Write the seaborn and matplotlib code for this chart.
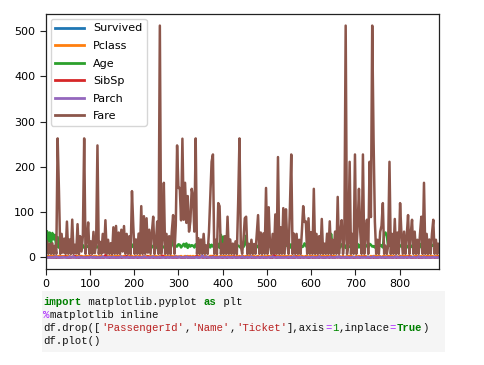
import matplotlib
matplotlib.use("Agg")
import matplotlib.pyplot as plt
import pandas as pd
import seaborn as sns
from matplotlib.patches import Rectangle

# Titanic columns as drawn by df.plot(), every 3rd row.
row_index = list(range(0, 889, 3))

fare = [
    7.25, 35.5, 8.05, 30.1, 7.9, 31.3, 7.23, 26.0, 7.9, 263.0,
    146.5, 7.9, 52.0, 10.5, 41.6, 7.88, 79.2, 8.05, 39.7, 7.75,
    83.5, 7.9, 27.9, 8.66, 73.5, 7.25, 46.9, 13.0, 47.1, 263.0,
    8.05, 39.0, 77.3, 7.75, 35.5, 7.78, 56.5, 9.5, 30.7, 247.5,
    7.9, 34.4, 8.05, 52.0, 10.5, 82.2, 7.75, 39.0, 7.9, 31.4,
    7.25, 66.6, 8.05, 69.55, 7.9, 55.0, 7.75, 61.2, 13.0, 69.3,
    8.05, 52.0, 7.9, 46.9, 7.25, 146.5, 69.3, 7.85, 39.7, 8.05,
    52.6, 7.9, 113.3, 7.75, 91.1, 7.9, 86.5, 10.5, 61.2, 7.9,
    55.0, 90.0, 7.75, 30.0, 79.2, 7.9, 512.3, 8.05, 39.7, 164.9,
    7.9, 52.0, 7.75, 46.9, 7.25, 56.9, 93.5, 8.05, 71.0, 247.5,
    153.5, 153.5, 81.9, 262.4, 83.2, 164.9, 76.3, 135.6, 57.0, 79.6,
    151.6, 134.5, 57.0, 263.0, 7.9, 42.4, 7.75, 39.6, 8.05, 52.0,
    7.9, 26.55, 7.75, 55.9, 135.6, 211.5, 227.5, 7.9, 39.0, 7.25,
    120.0, 113.3, 7.9, 30.0, 7.75, 46.9, 7.9, 90.0, 8.05, 39.6,
    7.9, 30.5, 7.75, 35.5, 7.25, 120.0, 263.0, 26.0, 8.05, 39.0,
    86.5, 90.0, 7.25, 30.0, 7.9, 39.0, 7.75, 29.7, 8.05, 52.0,
    93.5, 7.9, 55.0, 7.75, 53.1, 8.05, 153.5, 7.9, 110.9, 26.55,
    7.9, 52.0, 7.75, 95.0, 8.05, 221.8, 7.75, 66.6, 8.05, 108.9,
    7.9, 106.4, 30.0, 7.9, 110.9, 227.5, 7.75, 52.5, 7.9, 52.0,
    7.9, 39.0, 7.25, 56.5, 113.3, 78.3, 79.6, 7.9, 86.5, 8.05,
    55.9, 7.9, 151.6, 7.75, 52.0, 7.75, 46.9, 8.05, 85.0, 7.9,
    30.5, 7.9, 52.5, 7.9, 79.7, 7.75, 39.0, 7.9, 57.0, 8.05,
    133.7, 7.9, 56.5, 82.3, 7.75, 39.6, 512.3, 7.75, 30.0, 211.3,
    7.9, 52.0, 7.9, 227.5, 7.75, 69.55, 151.6, 55.4, 7.9, 227.5,
    7.9, 52.0, 83.2, 7.75, 211.3, 89.1, 512.3, 262.4, 78.9, 7.9,
    39.0, 7.9, 56.5, 69.55, 120.0, 7.9, 26.0, 7.75, 26.0, 211.3,
    7.75, 52.0, 7.9, 85.0, 7.75, 55.0, 7.9, 120.0, 52.0, 8.05,
    57.0, 7.9, 46.9, 93.5, 7.75, 52.5, 83.2, 7.9, 57.0, 7.9,
    39.0, 7.9, 52.0, 90.0, 7.75, 164.9, 7.9, 52.0, 7.75, 39.6,
    7.9, 52.0, 83.2, 7.9, 39.0, 7.75, 30.0,
]

age = [
    38, 58, 35, 55, 28, 54, 40, 50, 22, 45,
    22, 19, 26, 22, 24, 18, 28, 21, 26, 22,
    24, 20, 22, 18, 25, 21, 24, 17, 27, 22,
    20, 25, 24, 22, 23, 19, 27, 20, 24, 22,
    26, 22, 25, 28, 47, 27, 22, 25, 24, 21,
    22, 27, 21, 28, 20, 27, 24, 26, 22, 25,
    26, 21, 28, 24, 22, 23, 29, 25, 20, 24,
    27, 23, 25, 26, 21, 28, 24, 26, 23, 22,
    22, 26, 25, 23, 21, 27, 24, 28, 25, 22,
    24, 25, 28, 22, 23, 48, 27, 21, 26, 24,
    29, 28, 22, 26, 30, 24, 31, 21, 28, 24,
    27, 26, 22, 29, 23, 21, 26, 25, 27, 24,
    24, 22, 26, 29, 22, 28, 24, 27, 26, 22,
    30, 21, 50, 26, 46, 29, 23, 28, 24, 27,
    25, 26, 28, 22, 27, 26, 24, 21, 25, 23,
    28, 48, 25, 24, 21, 25, 24, 26, 27, 22,
    26, 24, 29, 25, 24, 27, 22, 28, 25, 24,
    23, 30, 26, 21, 27, 25, 28, 24, 28, 22,
    25, 26, 28, 23, 29, 21, 30, 27, 24, 26,
    25, 22, 28, 23, 24, 31, 26, 22, 25, 24,
    28, 27, 23, 27, 30, 21, 30, 25, 23, 28,
    29, 26, 25, 48, 22, 52, 29, 24, 28, 27,
    24, 25, 22, 29, 26, 28, 21, 27, 25, 23,
    26, 27, 22, 25, 24, 30, 22, 28, 26, 29,
    23, 28, 25, 21, 30, 28, 24, 25, 22, 27,
    24, 23, 28, 26, 22, 52, 55, 48, 24, 28,
    25, 26, 23, 29, 21, 30, 27, 24, 28, 22,
    29, 25, 25, 22, 31, 26, 23, 27, 28, 24,
    28, 25, 30, 22, 30, 27, 23, 26, 25, 29,
    22, 28, 26, 30, 23, 24, 27,
]

survived_digits = [
    "0111010001", "0101100010", "1100100111", "0010110100", "1001011001",
    "0110001011", "1010010110", "0100111001", "1011000101", "0010110110",
    "1100101001", "0101001110", "1001100101", "0110010011", "1010011000",
    "0101101001", "1001010110", "0011001011", "1100100101", "0101011000",
    "1010100110", "0011010101", "1100101010", "0100110011", "1011001010",
    "0110100101", "1001011010", "0101100110", "1010010011", "0110101",
]
pclass_digits = [
    "3131332332", "3323133231", "1233313321", "3323312331", "2331233133",
    "3133231313", "2313331231", "3312313323", "1333213313", "3231331332",
    "1131132313", "1313333231", "3211333133", "1133231323", "3321313233",
    "1333233312", "3123131332", "3311323313", "3133131332", "2313213313",
    "3313233133", "3133213331", "1321311333", "3211313131", "3311131333",
    "3321233133", "3313121333", "3233131133", "3313131332", "3312333",
]
sibsp_digits = [
    "1101000100", "0010120000", "1030001100", "0100201000", "0010050100",
    "1000101001", "0300100010", "0101000200", "1000010041", "0010100000",
    "1100001010", "0001300100", "1000102000", "0100010010", "0020001001",
    "0100100000", "1001000010", "0080010100", "0100010002", "0001001000",
    "1000010100", "0010020001", "0100100000", "1000001010", "1100001000",
    "0010100010", "0001000101", "0100200000", "1000010100", "0010001",
]
parch_digits = [
    "0000000120", "0001000020", "0200010000", "0000100100", "0002000010",
    "0100000200", "0010000001", "0000210000", "0200001000", "0010000020",
    "0100002000", "0000100050", "0200001000", "0001000100", "0100000020",
    "0010020000", "0000100001", "0200010000", "0001000200", "0010000010",
    "0100002000", "0000100001", "0200000100", "0010010000", "0001000200",
    "0100001000", "0000200010", "0010000100", "0200010000", "0001000",
]

columns = ["Survived", "Pclass", "Age", "SibSp", "Parch", "Fare"]
colors = ["#1f77b4", "#ff7f0e", "#2ca02c", "#d62728", "#9467bd", "#8c564b"]


def digits(groups):
    return [int(c) for c in "".join(groups)]


wide = pd.DataFrame({
    "Survived": digits(survived_digits),
    "Pclass": digits(pclass_digits),
    "Age": age,
    "SibSp": digits(sibsp_digits),
    "Parch": digits(parch_digits),
    "Fare": fare,
}, index=row_index)
long = wide.rename_axis("row").reset_index().melt(
    id_vars="row", var_name="column", value_name="value")

fig = plt.figure(figsize=(4.84, 3.65), dpi=100)
ax = fig.add_axes([0.0944, 0.263, 0.8136, 0.6986])

sns.lineplot(data=long, x="row", y="value", hue="column", hue_order=columns,
             palette=dict(zip(columns, colors)), estimator=None, sort=True,
             linewidth=1.8, ax=ax)

ax.set_xlim(0, 890)
ax.set_ylim(-25.6, 537.9)
ax.set_xticks(range(0, 801, 100))
ax.set_yticks(range(0, 501, 100))
ax.set_xlabel("")
ax.set_ylabel("")
ax.tick_params(labelsize=8, length=4, color="#222222")
for s in ax.spines.values():
    s.set_color("#222222")
    s.set_linewidth(0.9)

handles, labels = ax.get_legend_handles_labels()
for h in handles:
    h.set_linewidth(2.0)
ax.legend(handles, labels, loc="upper left", fontsize=8, handlelength=2.6,
          labelspacing=0.68, borderaxespad=0.45, frameon=True)

# notebook input cell below the figure
fig.patches.append(Rectangle((41.7 / 484, 1 - 351.7 / 365), 403.3 / 484, 61 / 365,
                             transform=fig.transFigure, facecolor="#f5f5f5",
                             edgecolor="none", zorder=0))

KW = ("#008000", "bold")
STR = ("#BA2121", "normal")
OP = ("#AA22FF", "normal")
NUM = ("#008800", "normal")
TXT = ("#111111", "normal")
code_lines = [
    [("import", KW), (" matplotlib.pyplot ", TXT), ("as", KW), (" plt", TXT)],
    [("%", OP), ("matplotlib inline", TXT)],
    [("df.drop([", TXT), ("'PassengerId'", STR), (",", TXT), ("'Name'", STR),
     (",", TXT), ("'Ticket'", STR), ("],axis", TXT), ("=", OP), ("1", NUM),
     (",inplace", TXT), ("=", OP), ("True", KW), (")", TXT)],
    [("df.plot()", TXT)],
]
code_size = 7.7
char_px = 0.6 * code_size * 100 / 72
baselines = [305, 318, 331, 344]
for base, parts in zip(baselines, code_lines):
    col = 0
    for text, (color, weight) in parts:
        fig.text((43.3 + col * char_px) / 484, 1 - base / 365, text,
                 family="Liberation Mono", fontsize=code_size, color=color,
                 weight=weight, va="baseline", ha="left")
        col += len(text)

fig.savefig("out.png", dpi=100)
